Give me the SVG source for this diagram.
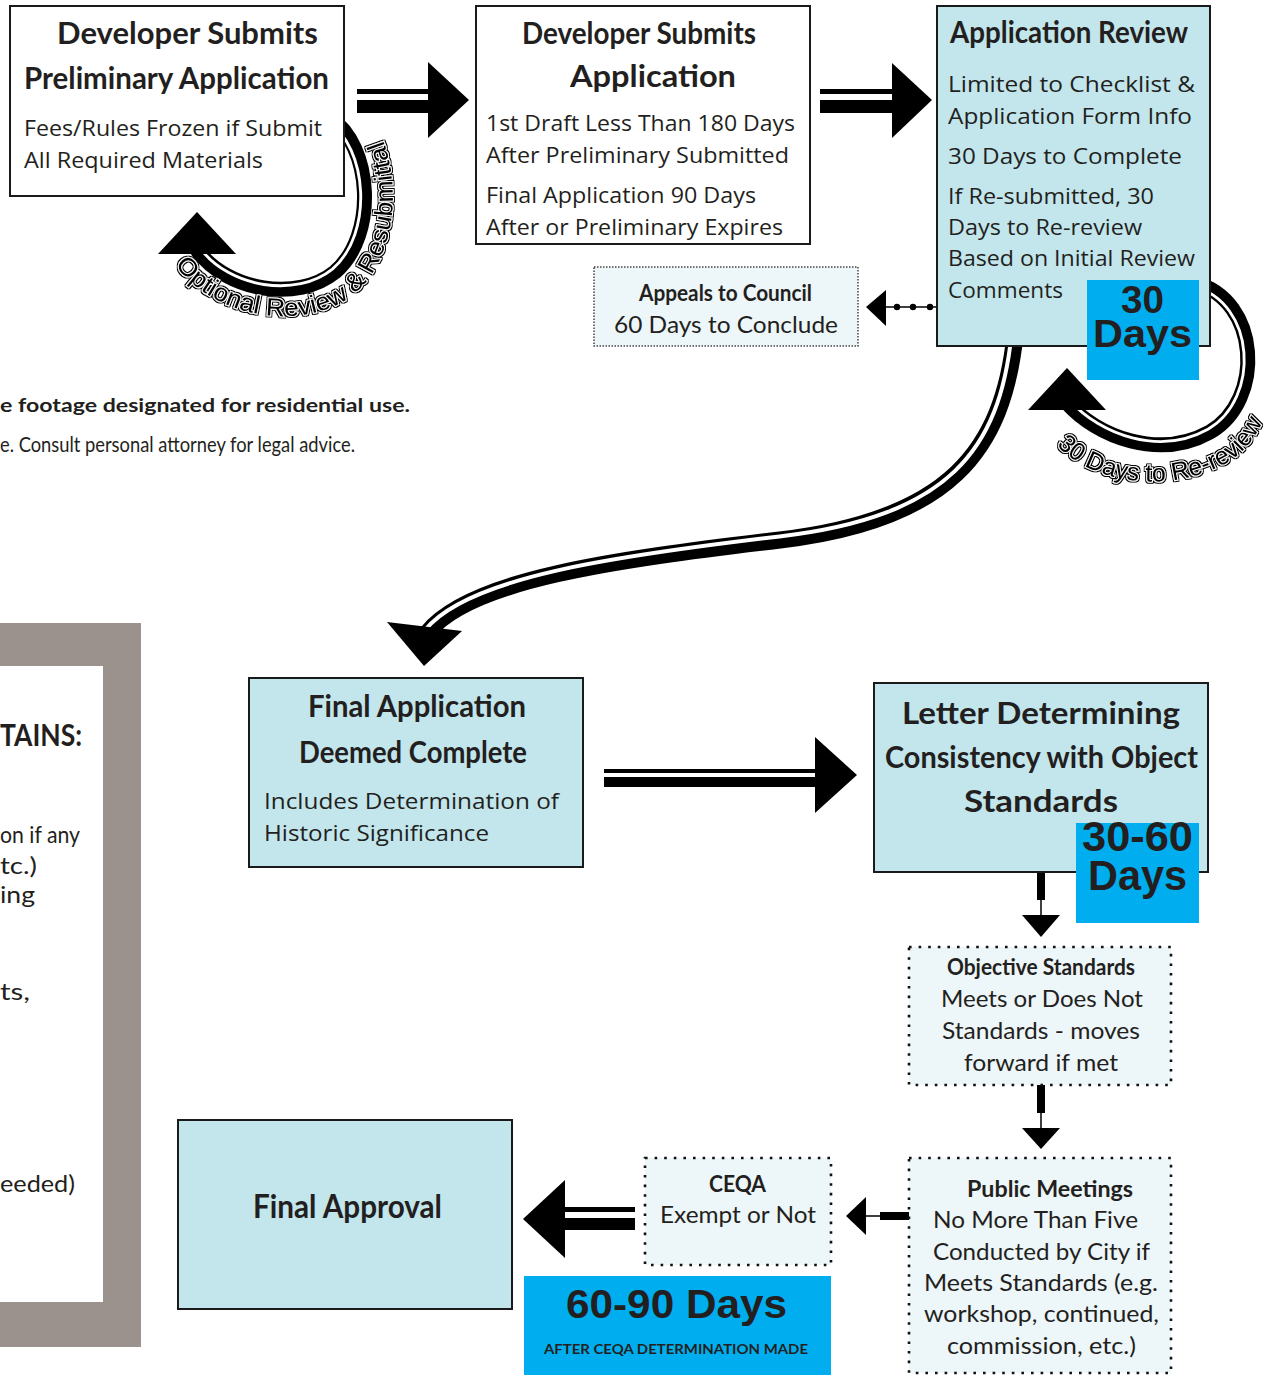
<svg xmlns="http://www.w3.org/2000/svg" width="1272" height="1375" viewBox="0 0 1272 1375">
<style>
.bx{stroke:#1a1a1a;stroke-width:2}
.wh{fill:#fff}
.bl{fill:#C2E6EC}
.dt{fill:#EDF6F8;stroke:#111;stroke-width:2.6;stroke-dasharray:2.6 7}
.dtf{fill:#EDF6F8;stroke:#444;stroke-width:1.5;stroke-dasharray:1.5 1.5}
.badge{fill:#00AEEF}
text{fill:#231F20}
.h{font-family:Lato,"Open Sans",sans-serif;font-weight:700}
.b{font-family:"Open Sans",sans-serif}
.c{font-family:Lato,"Open Sans",sans-serif}
.n{font-family:"Liberation Sans",Arial,sans-serif;font-weight:700}
.ar{fill:#000}
.band{fill:none;stroke:#000;stroke-width:15}
.gap{fill:none;stroke:#fff}
.wa{font-family:"Liberation Sans",Arial,sans-serif;font-size:25px;fill:#000;stroke:#fff;stroke-width:2;paint-order:stroke;filter:url(#wa)}
</style>
<defs>
<filter id="wa" x="-10%" y="-10%" width="120%" height="120%">
<feMorphology in="SourceAlpha" operator="dilate" radius="1.2" result="d"/>
<feMerge><feMergeNode in="d"/><feMergeNode in="SourceGraphic"/></feMerge>
</filter>
<path id="tpL" d="M 175.1 265 C 215.4 319.6, 306.4 332.6, 354.5 293.6 C 410.4 245.5, 402.6 128.5, 348 93.4"/>
<path id="tpR" d="M 1054 442 C 1088 482, 1165 497, 1228 462 C 1250 449, 1262 428, 1270 402"/>
</defs>
<rect width="1272" height="1375" fill="#fff"/>

<g id="left-fragments">
<text class="h" x="0" y="412" font-size="19" textLength="410" lengthAdjust="spacingAndGlyphs">e footage designated for residential use.</text>
<text class="c" x="0" y="452" font-size="22" textLength="355" lengthAdjust="spacingAndGlyphs">e. Consult personal attorney for legal advice.</text>
<path d="M0 623 H141 V1347 H0 Z M0 666 V1302 H103 V666 Z" fill="#9B918D" fill-rule="evenodd"/>
<text class="h" x="0" y="746" font-size="30" textLength="82" lengthAdjust="spacingAndGlyphs">TAINS:</text>
<text class="c" x="0" y="843" font-size="23" textLength="80" lengthAdjust="spacingAndGlyphs">on if any</text>
<text class="c" x="0" y="874" font-size="23" textLength="37" lengthAdjust="spacingAndGlyphs">tc.)</text>
<text class="c" x="0" y="903" font-size="23" textLength="35" lengthAdjust="spacingAndGlyphs">ing</text>
<text class="c" x="0" y="1000" font-size="23" textLength="30" lengthAdjust="spacingAndGlyphs">ts,</text>
<text class="c" x="0" y="1192" font-size="23" textLength="75" lengthAdjust="spacingAndGlyphs">eeded)</text>
</g>

<g id="connectors">
<!-- prelim -> application -->
<rect class="ar" x="357" y="89" width="71" height="5"/>
<rect class="ar" x="357" y="100" width="71" height="13"/>
<polygon class="ar" points="428,62 469,100 428,138"/>
<!-- application -> review -->
<rect class="ar" x="820" y="89" width="72" height="5"/>
<rect class="ar" x="820" y="100" width="72" height="13"/>
<polygon class="ar" points="892,63 932,100 892,138"/>
<!-- optional review loop -->
<path class="band" d="M 330 118 C 372 145, 378 235, 335 272 C 298 302, 228 292, 197 250"/>
<path class="gap" stroke-width="3" transform="translate(270 200) scale(0.96) translate(-270 -200)" d="M 330 118 C 372 145, 378 235, 335 272 C 298 302, 228 292, 197 250"/>
<polygon class="ar" points="197,212 158,254 236,254"/>
<text class="wa"><textPath href="#tpL" textLength="365" lengthAdjust="spacingAndGlyphs">Optional Review &amp; Resubmittal</textPath></text>
<!-- re-review loop -->
<path class="band" d="M 1195 283 C 1260 300, 1265 400, 1210 432 C 1160 460, 1098 438, 1066 402"/>
<path class="gap" stroke-width="3" transform="translate(1160 365) scale(0.959) translate(-1160 -365)" d="M 1195 283 C 1260 300, 1265 400, 1210 432 C 1160 460, 1098 438, 1066 402"/>
<polygon class="ar" points="1067,368 1028,410 1106,410"/>
<text class="wa"><textPath href="#tpR" startOffset="4" textLength="238" lengthAdjust="spacingAndGlyphs">30 Days to Re-review</textPath></text>
<!-- review -> appeals (dotted) -->
<line x1="886" y1="307" x2="937" y2="307" stroke="#000" stroke-width="1.5"/>
<circle cx="897" cy="307" r="3.2"/>
<circle cx="913" cy="307" r="3.2"/>
<circle cx="930" cy="307" r="3.2"/>
<polygon class="ar" points="886,290 866,307 886,326"/>
<!-- review -> final application (S curve) -->
<path fill="none" stroke="#000" stroke-width="17" d="M 1015 335 C 1003 450, 950 520, 780 540 C 610 560, 470 580, 428 632"/>
<path fill="none" stroke="#fff" stroke-width="4" d="M 1011.5 334.6 C 999.5 449.6, 949.6 516.5, 779.6 536.5 C 609.6 556.5, 467.3 577.8, 425.3 629.8"/>
<polygon class="ar" points="387,622 462,631 424,666"/>
<!-- final application -> letter -->
<rect class="ar" x="604" y="769" width="211" height="4"/>
<rect class="ar" x="604" y="777" width="211" height="10"/>
<polygon class="ar" points="815,737 857,775 815,813"/>
<!-- letter -> objective -->
<rect class="ar" x="1037" y="872" width="8" height="28"/>
<line x1="1041" y1="900" x2="1041" y2="916" stroke="#000" stroke-width="1.5"/>
<polygon class="ar" points="1022,915 1060,915 1041,937"/>
<!-- objective -> public -->
<rect class="ar" x="1037" y="1085" width="8" height="28"/>
<line x1="1041" y1="1113" x2="1041" y2="1129" stroke="#000" stroke-width="1.5"/>
<polygon class="ar" points="1022,1128 1060,1128 1041,1149"/>
<!-- public -> ceqa -->
<rect class="ar" x="880" y="1212" width="29" height="8"/>
<line x1="865" y1="1216" x2="880" y2="1216" stroke="#000" stroke-width="1.5"/>
<polygon class="ar" points="866,1197 846,1216 866,1235"/>
<!-- ceqa -> final approval -->
<rect class="ar" x="564" y="1207" width="71" height="5"/>
<rect class="ar" x="564" y="1218" width="71" height="12"/>
<polygon class="ar" points="565,1180 523,1219 565,1258"/>
</g>

<g id="node-preliminary">
<rect class="bx wh" x="10" y="6" width="334" height="190"/>
<text class="h" x="57" y="44" font-size="31" textLength="261" lengthAdjust="spacingAndGlyphs">Developer Submits</text>
<text class="h" x="24" y="89" font-size="31" textLength="305" lengthAdjust="spacingAndGlyphs">Preliminary Application</text>
<text class="b" x="24" y="136" font-size="21" textLength="298" lengthAdjust="spacingAndGlyphs">Fees/Rules Frozen if Submit</text>
<text class="b" x="24" y="168" font-size="21" textLength="239" lengthAdjust="spacingAndGlyphs">All Required Materials</text>
</g>

<g id="node-application">
<rect class="bx wh" x="476" y="6" width="334" height="238"/>
<text class="h" x="522" y="44" font-size="31" textLength="234" lengthAdjust="spacingAndGlyphs">Developer Submits</text>
<text class="h" x="570" y="87" font-size="31" textLength="166" lengthAdjust="spacingAndGlyphs">Application</text>
<text class="b" x="486" y="131" font-size="21" textLength="309" lengthAdjust="spacingAndGlyphs">1st Draft Less Than 180 Days</text>
<text class="b" x="486" y="163" font-size="21" textLength="303" lengthAdjust="spacingAndGlyphs">After Preliminary Submitted</text>
<text class="b" x="486" y="203" font-size="21" textLength="270" lengthAdjust="spacingAndGlyphs">Final Application 90 Days</text>
<text class="b" x="486" y="235" font-size="21" textLength="297" lengthAdjust="spacingAndGlyphs">After or Preliminary Expires</text>
</g>

<g id="node-review">
<rect class="bx bl" x="937" y="6" width="273" height="340"/>
<text class="h" x="950" y="43" font-size="30" textLength="238" lengthAdjust="spacingAndGlyphs">Application Review</text>
<text class="b" x="948" y="92" font-size="22" textLength="247" lengthAdjust="spacingAndGlyphs">Limited to Checklist &amp;</text>
<text class="b" x="948" y="124" font-size="22" textLength="244" lengthAdjust="spacingAndGlyphs">Application Form Info</text>
<text class="b" x="948" y="164" font-size="22" textLength="234" lengthAdjust="spacingAndGlyphs">30 Days to Complete</text>
<text class="b" x="948" y="204" font-size="22" textLength="206" lengthAdjust="spacingAndGlyphs">If Re-submitted, 30</text>
<text class="b" x="948" y="235" font-size="22" textLength="194" lengthAdjust="spacingAndGlyphs">Days to Re-review</text>
<text class="b" x="948" y="266" font-size="22" textLength="247" lengthAdjust="spacingAndGlyphs">Based on Initial Review</text>
<text class="b" x="948" y="298" font-size="22" textLength="115" lengthAdjust="spacingAndGlyphs">Comments</text>
<rect class="badge" x="1087" y="280" width="112" height="100"/>
<text class="n" x="1121" y="313" font-size="38" textLength="43" lengthAdjust="spacingAndGlyphs">30</text>
<text class="n" x="1093" y="347" font-size="38" textLength="99" lengthAdjust="spacingAndGlyphs">Days</text>
</g>

<g id="node-appeals">
<rect class="dtf" x="594" y="267" width="264" height="79"/>
<text class="h" x="639" y="301" font-size="22" textLength="173" lengthAdjust="spacingAndGlyphs">Appeals to Council</text>
<text class="c" x="614" y="333" font-size="23" textLength="224" lengthAdjust="spacingAndGlyphs">60 Days to Conclude</text>
</g>

<g id="node-final-application">
<rect class="bx bl" x="249" y="678" width="334" height="189"/>
<text class="h" x="308" y="717" font-size="31" textLength="218" lengthAdjust="spacingAndGlyphs">Final Application</text>
<text class="h" x="299" y="763" font-size="31" textLength="228" lengthAdjust="spacingAndGlyphs">Deemed Complete</text>
<text class="b" x="264" y="809" font-size="22" textLength="295" lengthAdjust="spacingAndGlyphs">Includes Determination of</text>
<text class="b" x="264" y="841" font-size="22" textLength="225" lengthAdjust="spacingAndGlyphs">Historic Significance</text>
</g>

<g id="node-letter">
<rect class="bx bl" x="874" y="683" width="334" height="189"/>
<text class="h" x="902" y="724" font-size="31" textLength="278" lengthAdjust="spacingAndGlyphs">Letter Determining</text>
<text class="h" x="885" y="768" font-size="31" textLength="313" lengthAdjust="spacingAndGlyphs">Consistency with Object</text>
<text class="h" x="964" y="812" font-size="31" textLength="154" lengthAdjust="spacingAndGlyphs">Standards</text>
<rect class="badge" x="1076" y="823" width="123" height="100"/>
<text class="n" x="1082" y="851" font-size="42" textLength="111" lengthAdjust="spacingAndGlyphs">30-60</text>
<text class="n" x="1088" y="890" font-size="42" textLength="99" lengthAdjust="spacingAndGlyphs">Days</text>
</g>

<g id="node-objective">
<rect class="dt" x="909" y="947" width="262" height="138"/>
<text class="h" x="947" y="975" font-size="22" textLength="188" lengthAdjust="spacingAndGlyphs">Objective Standards</text>
<text class="c" x="941" y="1007" font-size="24" textLength="202" lengthAdjust="spacingAndGlyphs">Meets or Does Not</text>
<text class="c" x="942" y="1039" font-size="24" textLength="198" lengthAdjust="spacingAndGlyphs">Standards - moves</text>
<text class="c" x="964" y="1071" font-size="24" textLength="154" lengthAdjust="spacingAndGlyphs">forward if met</text>
</g>

<g id="node-public">
<rect class="dt" x="909" y="1158" width="262" height="215"/>
<text class="h" x="967" y="1197" font-size="22" textLength="166" lengthAdjust="spacingAndGlyphs">Public Meetings</text>
<text class="c" x="933" y="1228" font-size="24" textLength="205" lengthAdjust="spacingAndGlyphs">No More Than Five</text>
<text class="c" x="933" y="1260" font-size="24" textLength="217" lengthAdjust="spacingAndGlyphs">Conducted by City if</text>
<text class="c" x="924" y="1291" font-size="24" textLength="234" lengthAdjust="spacingAndGlyphs">Meets Standards (e.g.</text>
<text class="c" x="924" y="1322" font-size="24" textLength="235" lengthAdjust="spacingAndGlyphs">workshop, continued,</text>
<text class="c" x="947" y="1354" font-size="24" textLength="189" lengthAdjust="spacingAndGlyphs">commission, etc.)</text>
</g>

<g id="node-ceqa">
<rect class="dt" x="645" y="1158" width="186" height="107"/>
<text class="h" x="709" y="1192" font-size="22" textLength="57" lengthAdjust="spacingAndGlyphs">CEQA</text>
<text class="c" x="660" y="1223" font-size="24" textLength="156" lengthAdjust="spacingAndGlyphs">Exempt or Not</text>
</g>

<g id="node-timing">
<rect class="badge" x="524" y="1276" width="307" height="99"/>
<text class="n" x="566" y="1318" font-size="40" textLength="221" lengthAdjust="spacingAndGlyphs">60-90 Days</text>
<text class="h" x="544" y="1354" font-size="13.5" textLength="264" lengthAdjust="spacingAndGlyphs">AFTER CEQA DETERMINATION MADE</text>
</g>

<g id="node-final-approval">
<rect class="bx bl" x="178" y="1120" width="334" height="189"/>
<text class="h" x="253" y="1218" font-size="32" textLength="189" lengthAdjust="spacingAndGlyphs">Final Approval</text>
</g>
</svg>
